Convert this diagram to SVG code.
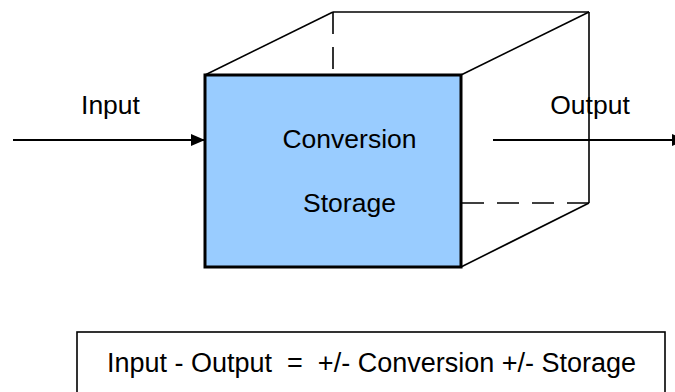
<svg xmlns="http://www.w3.org/2000/svg" width="675" height="392" viewBox="0 0 675 392">
  <style>
    .label { font-family: "Liberation Sans", Arial, sans-serif; font-size: 26.5px; fill: #000; }
    .edge { fill: none; stroke: #000; stroke-width: 1.6; }
    .hidden { fill: none; stroke: #000; stroke-width: 1.6; stroke-dasharray: 22 13; }
    .flow { fill: none; stroke: #000; stroke-width: 1.8; }
  </style>
  <defs>
    <marker id="arrow" viewBox="0 0 14 12" refX="14" refY="6" markerWidth="14" markerHeight="12" markerUnits="userSpaceOnUse" orient="auto">
      <path d="M0,0 L14,6 L0,12 Z" fill="#000"/>
    </marker>
  </defs>
  <rect width="675" height="392" fill="#fff"/>

  <!-- box drawn as a cube: back edges, then the front face -->
  <g id="cube">
    <line class="edge" x1="205" y1="75" x2="333" y2="12"/>
    <line class="edge" x1="333" y1="12" x2="589" y2="12"/>
    <line class="edge" x1="461" y1="75" x2="589" y2="12"/>
    <line class="edge" x1="589" y1="12" x2="589" y2="203"/>
    <line class="edge" x1="461" y1="267" x2="589" y2="203"/>
    <line class="hidden" x1="333" y1="12" x2="333" y2="75"/>
    <line class="hidden" x1="589" y1="203" x2="461" y2="203"/>
  </g>
  <g id="front">
    <rect x="205" y="75" width="256" height="192" fill="#99CCFF" stroke="#000" stroke-width="3"/>
    <text class="label" x="349.5" y="148" text-anchor="middle">Conversion</text>
    <text class="label" x="349.5" y="212" text-anchor="middle">Storage</text>
  </g>

  <g id="connectors">
    <line class="flow" x1="13" y1="140" x2="205" y2="140" marker-end="url(#arrow)"/>
    <line class="flow" x1="493" y1="140" x2="686" y2="140" marker-end="url(#arrow)"/>
  </g>
  <g id="labels">
    <text class="label" x="110.5" y="114" text-anchor="middle">Input</text>
    <text class="label" x="590" y="114" text-anchor="middle">Output</text>
  </g>

  <g id="equation">
    <rect x="77" y="332" width="588" height="70" fill="#fff" stroke="#000" stroke-width="1.6"/>
    <text class="label" x="107" y="372" xml:space="preserve" style="font-size:27px">Input - Output  =  +/- Conversion +/- Storage</text>
  </g>
</svg>
